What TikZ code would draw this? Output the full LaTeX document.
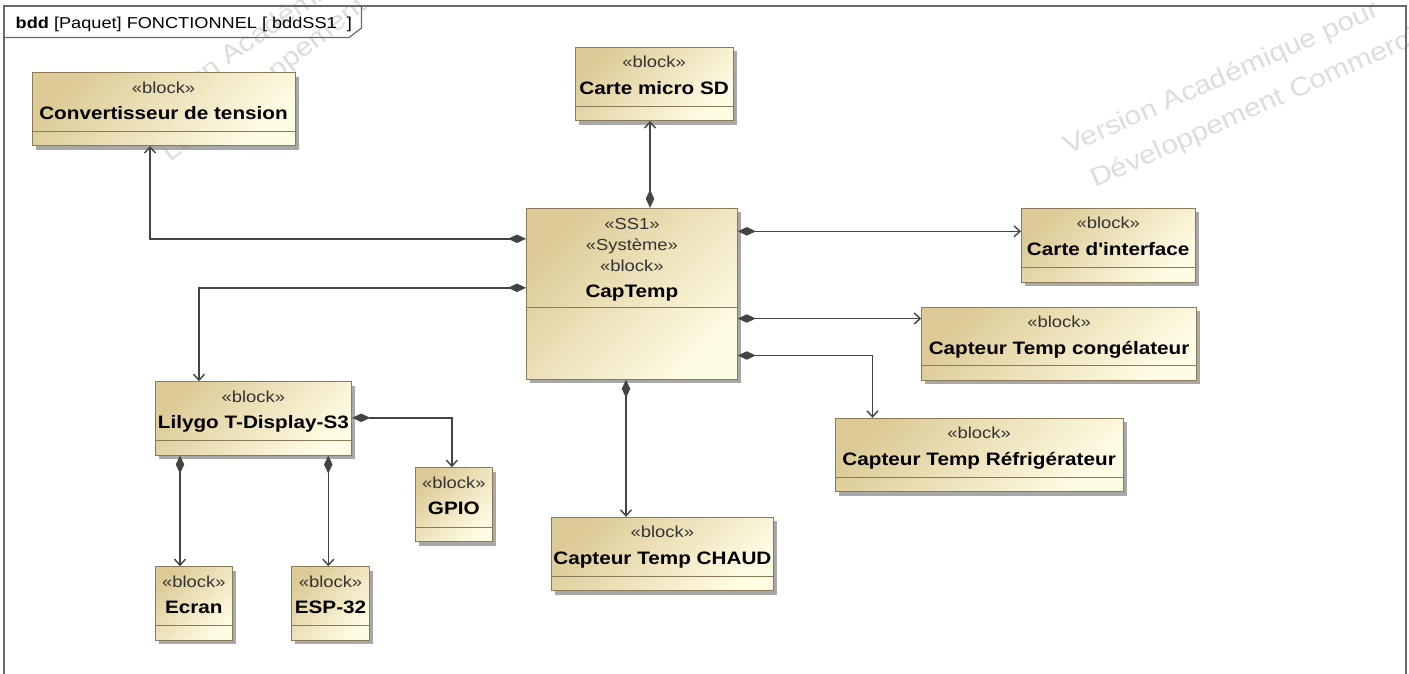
\documentclass[tikz,border=0pt]{standalone}
\usepackage{fontspec}
\newfontfamily\umlfont[FakeStretch=1.15]{Liberation Sans}
\usetikzlibrary{arrows.meta,fit,shadows}

\definecolor{blkA}{RGB}{220,203,150}
\definecolor{blkB}{RGB}{255,252,228}
\definecolor{blkEdge}{RGB}{138,122,88}
\definecolor{lnk}{RGB}{68,68,68}
\definecolor{frm}{RGB}{105,105,105}
\definecolor{wmark}{RGB}{221,221,221}

\tikzset{
  blk/.style={draw=blkEdge, line width=1pt, inner sep=0pt,
    top color=blkA, bottom color=blkB, shading angle=45,
    drop shadow={shadow xshift=3.5pt, shadow yshift=-4pt, fill=black!45, opacity=0.75}},
  blkline/.style={draw=blkEdge, line width=1pt},
  stereo/.style={font=\umlfont\fontsize{16}{18}\selectfont, text=black!80, inner sep=0pt, anchor=base},
  bname/.style={font=\umlfont\bfseries\fontsize{18}{20}\selectfont, inner sep=0pt, anchor=base},
  comp/.style={draw=lnk, line width=1.4pt,
    arrows={Diamond[length=18pt,width=8.5pt]-Straight Barb[length=6pt,width=11pt]}},
  wm/.style={font=\umlfont\fontsize{26}{30}\selectfont, text=wmark, anchor=base west, inner sep=0pt},
  frameline/.style={draw=frm, line width=1.6pt},
}

% block with one stereotype, a name and an empty compartment
\newcommand\umlblock[7]{%
  \node[blk, fit={(#2,#3) (#4,#5)}] (#1) {};
  \node[stereo] (#1-st) at ([yshift=-21pt]#1.north) {#6};
  \node[bname] (#1-nm) at ([yshift=-47.5pt]#1.north) {#7};
  \draw[blkline] ([yshift=15pt]#1.south west) -- ([yshift=15pt]#1.south east);
}

\begin{document}
\begin{tikzpicture}[x=1pt,y=-1pt]
\useasboundingbox (0,0) rectangle (1409,673);
\fill[white] (0,0) rectangle (1409,673);

% watermark
\begin{scope}
  \clip (0,0) rectangle (1409,673);
  \node[wm, rotate=35] (wmA1) at (140,128) {Version Académique pour};
  \node[wm, rotate=38] (wmA2) at (170,163) {Le Développement Commercial};
  \node[wm, rotate=24] (wmB1) at (1068,155) {Version Académique pour};
  \node[wm, rotate=24] (wmB2) at (1095,188) {Développement Commercial};
\end{scope}

% diagram frame and its header tab
\draw[frameline] (4,690) -- (4,6) -- (1406,6) -- (1406,690);
\draw[draw=frm, line width=1.2pt] (4,37.5) -- (349,37.5) -- (361.5,28) -- (361.5,6);
\node[anchor=base west, inner sep=0pt, font=\umlfont\fontsize{15.8}{18}\selectfont] (title)
  at (15.5,28.3) {\textbf{bdd} [Paquet] FONCTIONNEL [ bddSS1\ \ ]};

% main system block
\node[blk, fit={(526.5,208.3) (737.3,379.3)}] (cap) {};
\node[stereo] (cap-s1) at ([yshift=-22pt]cap.north) {«SS1»};
\node[stereo] (cap-s2) at ([yshift=-43pt]cap.north) {«Système»};
\node[stereo] (cap-s3) at ([yshift=-63.5pt]cap.north) {«block»};
\node[bname] (cap-nm) at ([yshift=-90pt]cap.north) {CapTemp};
\draw[blkline] ([yshift=-100pt]cap.north west) -- ([yshift=-100pt]cap.north east);

% parts
\umlblock{conv}{32}{72.5}{295}{145.5}{«block»}{Convertisseur de tension}
\umlblock{sd}{575}{47.3}{733.3}{120.5}{«block»}{Carte micro SD}
\umlblock{iface}{1021.5}{208.3}{1195}{282}{«block»}{Carte d'interface}
\umlblock{cong}{921.7}{307.3}{1196.5}{380}{«block»}{Capteur Temp congélateur}
\umlblock{refr}{835}{418.3}{1123.3}{491.5}{«block»}{Capteur Temp Réfrigérateur}
\umlblock{chaud}{551.5}{517.3}{773.3}{590.5}{«block»}{Capteur Temp CHAUD}
\umlblock{lily}{155}{381.7}{351.7}{455}{«block»}{Lilygo T-Display-S3}
\umlblock{gpio}{415}{467.7}{492.7}{541.5}{«block»}{GPIO}
\umlblock{ecran}{155}{566.7}{232.7}{640}{«block»}{Ecran}
\umlblock{esp}{291.7}{566.7}{369.3}{640}{«block»}{ESP-32}

% attachment points on the whole
\coordinate (capW1) at ([yshift=-31pt]cap.north west);
\coordinate (capW2) at ([yshift=-80pt]cap.north west);
\coordinate (capN)  at ([xshift=18.1pt]cap.north);
\coordinate (capE1) at ([yshift=-23.5pt]cap.north east);
\coordinate (capE2) at ([yshift=-110.7pt]cap.north east);
\coordinate (capE3) at ([yshift=-147.7pt]cap.north east);
\coordinate (capS)  at ([xshift=-5.9pt]cap.south);
\coordinate (lilyE) at ([yshift=-36.6pt]lily.north east);
\coordinate (lilyS1) at ([xshift=-73.35pt]lily.south);
\coordinate (lilyS2) at ([xshift=74.95pt]lily.south);

% composition links
\draw[comp] (capW1) -| ([xshift=-13.5pt]conv.south);
\draw[comp] (capW2) -| ([xshift=-54.35pt]lily.north);
\draw[comp] (capN) -- (capN |- sd.south);
\draw[comp] (capE1) -- (capE1 -| iface.west);
\draw[comp] (capE2) -- (capE2 -| cong.west);
\draw[comp] (capE3) -| ([xshift=-106.65pt]refr.north);
\draw[comp] (capS) -- (capS |- chaud.north);
\draw[comp] (lilyE) -| ([xshift=-2pt]gpio.north);
\draw[comp] (lilyS1) -- (lilyS1 |- ecran.north);
\draw[comp] (lilyS2) -- (lilyS2 |- esp.north);
\end{tikzpicture}
\end{document}
